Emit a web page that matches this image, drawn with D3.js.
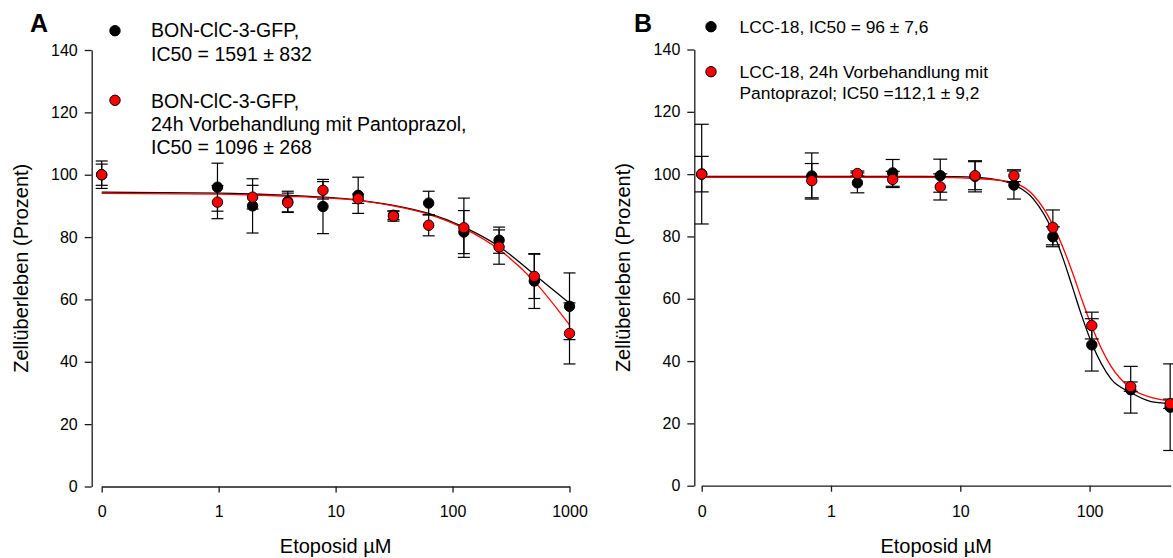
<!DOCTYPE html>
<html><head><meta charset="utf-8">
<script src="https://cdn.jsdelivr.net/npm/d3@7"></script>
<style>
html,body{margin:0;padding:0;background:#fff;}
svg{display:block;font-family:"Liberation Sans",Arial,sans-serif;}
</style></head><body>
<svg id="chart" width="1173" height="558"></svg>
<script>
// ---------- DATA ----------
const yTicks = [0, 20, 40, 60, 80, 100, 120, 140];

// Panel A – BON-ClC-3-GFP
const concA = [0, 0.977, 1.95, 3.9, 7.8, 15.6, 31.25, 62.5, 125, 250, 500, 1000];
const bonMean      = [100, 96.0, 90.0, 91.4, 89.8, 93.4, 87.0, 90.9, 81.6, 79.0, 65.9, 57.8];
const bonSD        = [3.4, 7.7, 8.7, 3.3, 8.7, 5.8, 1.4, 3.8, 6.9, 4.2, 8.8, 10.7];
const bonPantoMean = [100, 91.2, 92.8, 91.0, 95.0, 92.3, 86.7, 83.8, 83.0, 76.8, 67.4, 49.1];
const bonPantoSD   = [4.4, 5.3, 3.8, 3.1, 2.8, 1.5, 1.6, 3.4, 9.5, 5.5, 7.1, 9.8];
const fitConcA     = [0, 1, 2, 4, 8, 16, 31.25, 62.5, 125, 250, 500, 1000];
const bonFit       = [94.4, 94.1, 93.8, 93.4, 92.8, 91.8, 90.2, 87.6, 83.2, 77.0, 68.0, 58.8];
const bonPantoFit  = [94.0, 93.8, 93.5, 93.1, 92.6, 91.7, 90.0, 87.3, 82.8, 76.0, 65.8, 51.8];
const xTicksA      = [0, 1, 10, 100, 1000];
const xTickLabelsA = ["0", "1", "10", "100", "1000"];
const legendA1 = ["BON-ClC-3-GFP,", "IC50 = 1591 ± 832"];
const legendA2 = ["BON-ClC-3-GFP,", "24h Vorbehandlung mit Pantoprazol,", "IC50 = 1096 ± 268"];

// Panel B – LCC-18
const concB = [0, 0.71, 1.6, 3.0, 7.0, 13, 26, 52, 104, 208, 420];
const lccMean      = [100, 99.4, 97.2, 100.4, 99.5, 99.3, 96.5, 79.9, 45.2, 30.8, 25.2];
const lccSD        = [16.0, 7.4, 3.2, 4.3, 5.3, 5.0, 4.5, 3.2, 8.4, 7.5, 13.9];
const lccPantoMean = [100, 97.9, 100.2, 98.3, 95.9, 99.5, 99.5, 82.9, 51.4, 31.8, 26.3];
const lccPantoSD   = [5.7, 5.5, 0.8, 2.6, 4.2, 4.5, 1.9, 5.6, 4.3, 1.5, 1.5];
const fitConcB     = [0, 1, 4, 9, 13, 18.4, 26, 36.8, 52, 62, 73.5, 87, 104, 147, 208, 294, 420];
const lccFit       = [99.3, 99.3, 99.3, 99.2, 99.0, 98.3, 96.6, 92.0, 81.5, 73.2, 63.9, 54.5, 45.7, 34.2, 29.9, 27.1, 26.4];
const lccPantoFit  = [99.0, 99.0, 99.0, 98.9, 98.6, 98.2, 97.2, 93.2, 83.7, 76.6, 68.6, 59.8, 51.1, 38.2, 31.3, 28.4, 27.2];
const xTicksB      = [0, 1, 10, 100];
const xTickLabelsB = ["0", "1", "10", "100"];
const legendB1 = ["LCC-18, IC50 = 96 ± 7,6"];
const legendB2 = ["LCC-18, 24h Vorbehandlung mit", "Pantoprazol; IC50 =112,1 ± 9,2"];

const xTitle = "Etoposid µM";
const yTitle = "Zellüberleben (Prozent)";

// ---------- DRAWING ----------
const svg = d3.select("#chart");

function drawPanel(p) {
  const g = svg.append("g");
  const x = d3.scaleLog().domain(p.xDomain).range(p.xRange);
  const y = d3.scaleLinear().domain([0, 140]).range(p.yRange);
  const xv = c => (c === 0 ? p.xDomain[0] : c);

  // axes
  const ya = g.append("g").attr("transform", `translate(${p.yAxisX},0)`)
    .call(d3.axisLeft(y).tickValues(yTicks).tickSize(7).tickPadding(7).tickSizeOuter(0).tickFormat(d3.format("d")));
  const xa = g.append("g").attr("transform", `translate(0,${p.xAxisY})`)
    .call(d3.axisBottom(x).tickValues(p.xTicks.map(xv)).tickSize(6).tickPadding(13.5).tickSizeOuter(0)
      .tickFormat((d, i) => p.xTickLabels[i]));
  [ya, xa].forEach(a => {
    a.attr("font-family", null).attr("font-size", 16).attr("color", "#1a1a1a");
    a.selectAll("path,line").attr("stroke-width", 1.3);
    a.selectAll("text").attr("fill", "#000");
  });

  // axis titles
  g.append("text").attr("x", (p.xRange[0] + p.xRange[1]) / 2).attr("y", 553)
    .attr("text-anchor", "middle").attr("font-size", 20).text(xTitle);
  g.append("text").attr("transform", `translate(${p.yAxisX - 64},${(p.yRange[0] + p.yRange[1]) / 2}) rotate(-90)`)
    .attr("text-anchor", "middle").attr("font-size", 20).text(yTitle);

  // panel letter
  g.append("text").attr("x", p.letterX).attr("y", 32).attr("font-size", 25)
    .attr("font-weight", "bold").text(p.letter);

  // fitted curves
  const line = d3.line().x(d => x(xv(d.c))).y(d => y(d.v)).curve(d3.curveMonotoneX);
  p.series.forEach(s => {
    g.append("path").datum(s.fitConc.map((c, i) => ({ c, v: s.fit[i] })))
      .attr("d", line).attr("fill", "none").attr("stroke", s.line).attr("stroke-width", 1.3);
  });

  // error bars
  p.series.forEach(s => {
    const eb = g.append("g").attr("stroke", "#000").attr("stroke-width", 1.2);
    s.conc.forEach((c, i) => {
      const cx = x(xv(c)), y1 = y(s.mean[i] + s.sd[i]), y2 = y(s.mean[i] - s.sd[i]);
      eb.append("line").attr("x1", cx).attr("x2", cx).attr("y1", y1).attr("y2", y2);
      [y1, y2].forEach(yy => eb.append("line").attr("x1", cx - p.cap).attr("x2", cx + p.cap)
        .attr("y1", yy).attr("y2", yy));
    });
  });

  // points
  p.series.forEach(s => {
    g.append("g").selectAll("circle").data(s.conc.map((c, i) => ({ c, v: s.mean[i] })))
      .join("circle").attr("cx", d => x(xv(d.c))).attr("cy", d => y(d.v)).attr("r", 5.2)
      .attr("fill", s.fill).attr("stroke", "#000").attr("stroke-width", 1);
  });

  // legend
  p.legend.forEach(l => {
    g.append("circle").attr("cx", p.legX).attr("cy", l.cy).attr("r", 5.2)
      .attr("fill", l.fill).attr("stroke", "#000").attr("stroke-width", 1);
    const t = g.append("text").attr("font-size", p.legFont);
    l.lines.forEach((s, i) => t.append("tspan").attr("x", p.legTextX).attr("y", l.base + i * p.legLH).text(s));
  });
}

drawPanel({
  letter: "A", letterX: 30,
  xDomain: [0.1, 1000], xRange: [101.7, 569.5], yRange: [486.5, 50], yAxisX: 91.7, xAxisY: 486.5,
  xTicks: xTicksA, xTickLabels: xTickLabelsA, cap: 6,
  series: [
    { conc: concA, mean: bonMean, sd: bonSD, fitConc: fitConcA, fit: bonFit, fill: "#000", line: "#000" },
    { conc: concA, mean: bonPantoMean, sd: bonPantoSD, fitConc: fitConcA, fit: bonPantoFit, fill: "#ff0000", line: "#ff0000" }
  ],
  legX: 115, legTextX: 151, legFont: 19.5, legLH: 23.3,
  legend: [
    { cy: 30.7, base: 37.3, fill: "#000", lines: legendA1 },
    { cy: 100.3, base: 107.5, fill: "#ff0000", lines: legendA2 }
  ]
});

drawPanel({
  letter: "B", letterX: 634,
  xDomain: [0.1, 424], xRange: [701.7, 1170.7], yRange: [485.7, 49.5], yAxisX: 694.3, xAxisY: 485.7,
  xTicks: xTicksB, xTickLabels: xTickLabelsB, cap: 7,
  series: [
    { conc: concB, mean: lccMean, sd: lccSD, fitConc: fitConcB, fit: lccFit, fill: "#000", line: "#000" },
    { conc: concB, mean: lccPantoMean, sd: lccPantoSD, fitConc: fitConcB, fit: lccPantoFit, fill: "#ff0000", line: "#ff0000" }
  ],
  legX: 711, legTextX: 739.5, legFont: 17.4, legLH: 21,
  legend: [
    { cy: 26.7, base: 33.3, fill: "#000", lines: legendB1 },
    { cy: 71.7, base: 78.3, fill: "#ff0000", lines: legendB2 }
  ]
});
</script>
</body></html>
